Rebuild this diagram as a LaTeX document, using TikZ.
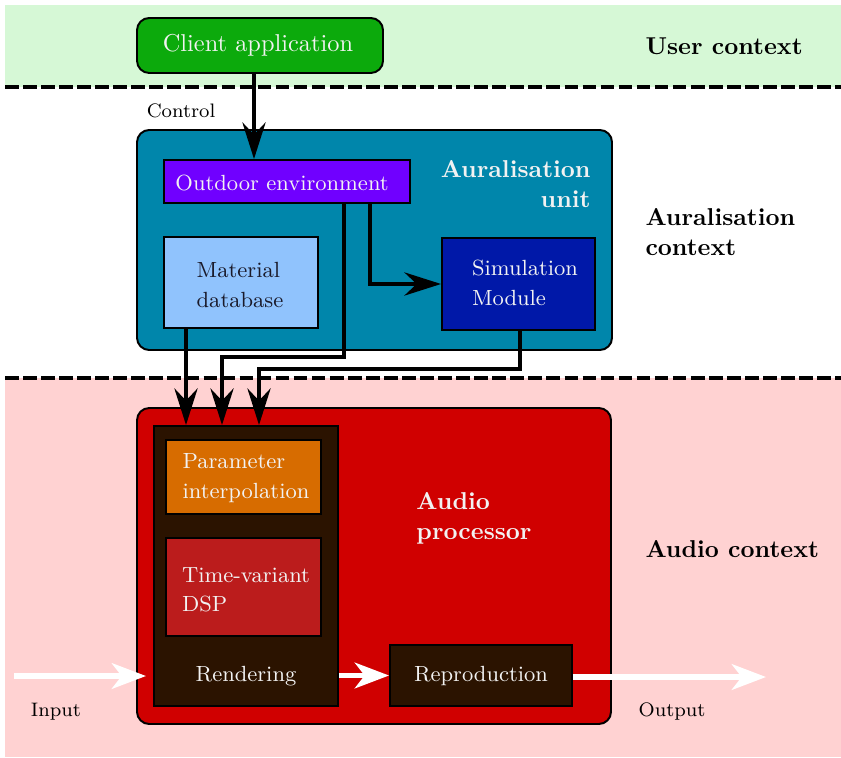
\documentclass[tikz,border=0pt]{standalone}
\usetikzlibrary{arrows.meta,fit}

\definecolor{userbg}{HTML}{D6F8D6}
\definecolor{audiobg}{HTML}{FFD2D2}
\definecolor{clientgreen}{HTML}{0CAA0C}
\definecolor{auralteal}{HTML}{0086AB}
\definecolor{outdoorviolet}{HTML}{7000FF}
\definecolor{materialblue}{HTML}{90C3FD}
\definecolor{simblue}{HTML}{0018A8}
\definecolor{procred}{HTML}{D00000}
\definecolor{renderbrown}{HTML}{2B1300}
\definecolor{paramorange}{HTML}{D76C00}
\definecolor{dspred}{HTML}{BB1C1C}
\definecolor{paletext}{HTML}{F2F2F2}
\definecolor{darktext}{HTML}{1A1A2A}

\begin{document}
\begin{tikzpicture}[x=0.41pt,y=-0.41pt,
  box/.style={draw=black, line width=0.8pt, inner sep=0pt},
  rbox/.style={box, rounded corners=5pt},
  lbl/.style={text=paletext, font=\fontsize{9}{12}\selectfont, align=left},
  heading/.style={font=\fontsize{10}{12.4}\selectfont\bfseries, inner sep=0pt},
  ctx/.style={heading, align=left, anchor=west},
  note/.style={font=\footnotesize},
  flow/.style={line width=1.6pt, -{Stealth[length=15pt,width=9.5pt,inset=5pt]}},
  sig/.style={draw=white, line width=2.2pt, -{Stealth[length=14pt,width=10.5pt,inset=4pt]}},
  sep/.style={line width=1.6pt, dash pattern=on 5.6pt off 1.8pt}]

\useasboundingbox (0,0) rectangle (841,757);

% context bands
\fill[userbg] (5,5) rectangle (841,87);
\fill[audiobg] (5,378) rectangle (841,757);

\coordinate (sepAw) at (5,87);
\coordinate (sepAe) at (841,87);
\coordinate (sepBw) at (5,378);
\coordinate (sepBe) at (841,378);
\draw[sep] (sepAw) -- (sepAe);
\draw[sep] (sepBw) -- (sepBe);

% context titles
\node[ctx] (userctx) at (645,46) {User context};
\node[ctx] (auralctx) at (645,232) {Auralisation\\context};
\node[ctx] (audioctx) at (645,549) {Audio context};

% user context
\node[rbox, fill=clientgreen, fit={(137,18) (383,73)}] (client) {};
\node[text=paletext] (clienttxt) at (258,45) {Client application};
\node[note] (control) at (181,111) {Control};

% auralisation unit
\node[rbox, fill=auralteal, fit={(137,130) (612,350)}] (aural) {};
\node[heading, anchor=north east, align=right, text=paletext] (auraltitle) at (591,160) {Auralisation\\unit};
\node[box, fill=outdoorviolet, fit={(164,160) (410,203)}] (outdoor) {};
\node[lbl, anchor=west, inner sep=0pt] (outdoortxt) at (175,183) {Outdoor environment};
\node[box, fill=materialblue, fit={(164,237) (318,328)}] (material) {};
\node[lbl, text=darktext] (materialtxt) at (240,285) {Material\\database};
\node[box, fill=simblue, fit={(442,238) (595,330)}] (sim) {};
\node[lbl] (simtxt) at (525,283) {Simulation\\Module};

% audio processor
\node[rbox, fill=procred, fit={(137,408) (611,724)}] (proc) {};
\node[heading, anchor=west, align=left, text=paletext] (proctitle) at (416,518) {Audio\\processor};
\node[box, fill=renderbrown, fit={(154,426) (338,706)}] (render) {};
\node[box, fill=paramorange, fit={(166,440) (321,514)}] (param) {};
\node[lbl] (paramtxt) at (246,478) {Parameter\\interpolation};
\node[box, fill=dspred, fit={(166,538) (321,636)}] (dsp) {};
\node[lbl] (dsptxt) at (246,590) {Time-variant\\DSP};
\node[lbl] (rendertxt) at (246,676) {Rendering};
\node[box, fill=renderbrown, fit={(390,645) (572,706)}] (repro) {};
\node[lbl] (reprotxt) at (481,676) {Reproduction};

\node[note] (input) at (56,712) {Input};
\node[note] (output) at (672,712) {Output};

% control connections
\coordinate (ctrlx) at (254,0);
\draw[flow] (client.south -| ctrlx) -- (outdoor.north -| ctrlx);
\coordinate (simx) at (370,0);
\draw[flow] (outdoor.south -| simx) |- (sim.west);
\coordinate (matx) at (186,0);
\draw[flow] (material.south -| matx) -- (render.north -| matx);
\coordinate (bendA) at (344,357);
\coordinate (inA) at (222,0);
\draw[flow] (outdoor.south -| bendA) -- (bendA) -| (render.north -| inA);
\coordinate (bendB) at (520,369);
\coordinate (inB) at (259,0);
\draw[flow] (sim.south -| bendB) -- (bendB) -| (render.north -| inB);

% signal path
\coordinate (sigin) at (14,676);
\coordinate (sigintip) at (146,676);
\draw[sig] (sigin) -- (sigintip);
\draw[sig] (render.east |- repro.west) -- (repro.west);
\coordinate (sigout) at (766,677);
\draw[sig] (repro.east |- sigout) -- (sigout);

\end{tikzpicture}
\end{document}
